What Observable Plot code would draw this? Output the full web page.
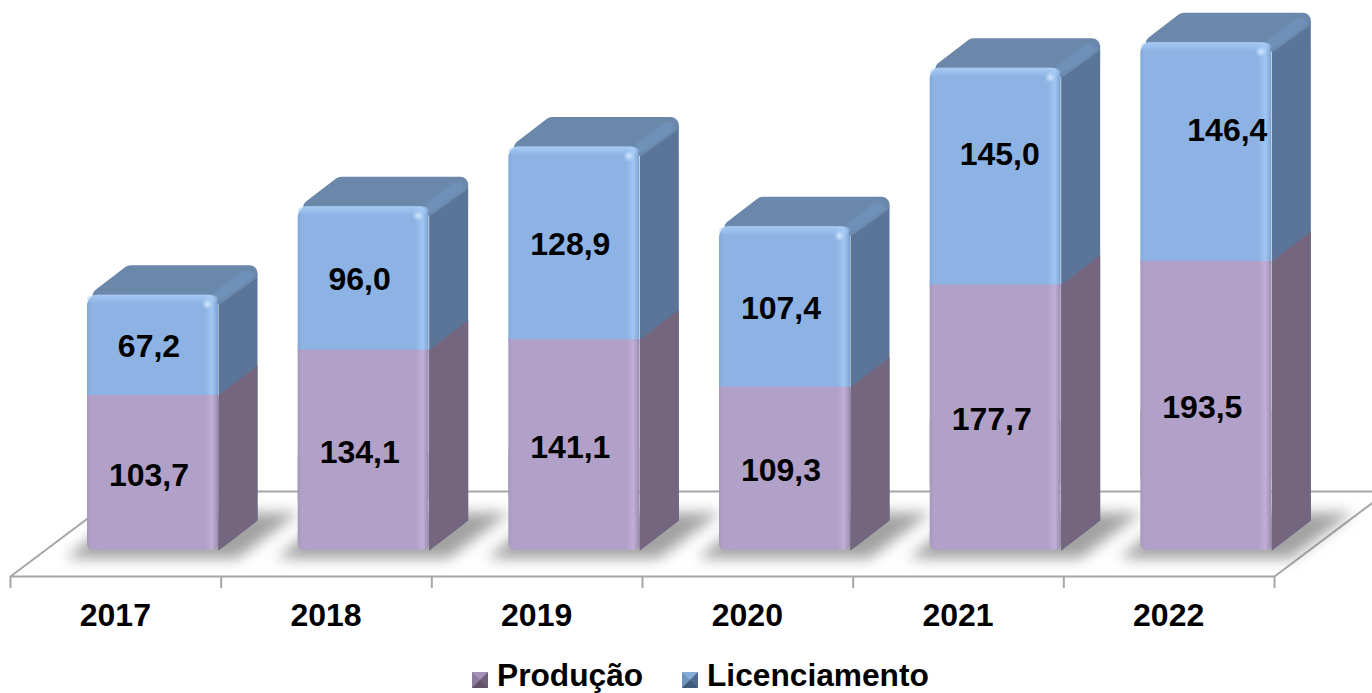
<!DOCTYPE html>
<html lang="pt">
<head>
<meta charset="utf-8">
<script src="https://cdn.jsdelivr.net/npm/d3@7"></script>
<script src="https://cdn.jsdelivr.net/npm/@observablehq/plot@0.6"></script>
<style>
html,body{margin:0;padding:0;background:#fff;overflow:hidden;width:1372px;height:693px}
#legend{position:relative;height:33px;width:1372px;font:bold 31.7px "Liberation Sans",Arial,sans-serif;color:#000}
#legend span{position:absolute;top:-1px;line-height:32px;white-space:nowrap}
#legend i{position:absolute;top:12px;width:0;height:0;border-style:solid;border-width:8px}
</style>
</head>
<body>
<div id="chart"></div>
<div id="legend"></div>
<script>
const years = ["2017","2018","2019","2020","2021","2022"];
const producao = [103.7,134.1,141.1,109.3,177.7,193.5];
const licenciamento = [67.2,96.0,128.9,107.4,145.0,146.4];
const producaoLabels = ["103,7","134,1","141,1","109,3","177,7","193,5"];
const licenciamentoLabels = ["67,2","96,0","128,9","107,4","145,0","146,4"];
const licLabelLift = [0,0,0,0,15.5,15.5];
const licLabelShift = [0,0,0,0,8,25];

const colors = {
  prodFront:"#b1a0c7", prodLight:"#c0aed6", prodSide:"#75667f",
  licFront:"#8cb3e3", licLight:"#a0c6f2", licSide:"#5a7597",
  top:"#6b88ab", bevel:"#6f91b9", axis:"#a6a6a6", shadow:"#555555"
};

// scale geometry
const W = 1372, H = 660;
const xDomain = [0,6], xRange = [10,1274];
const yDomain = [0,340], yRange = [550,42];
const PX = 6/(xRange[1]-xRange[0]);
const PY = 340/(yRange[0]-yRange[1]);
const FRONT_L = 77, FRONT_W = 131, DEPTH_X = 39, DEPTH_Y = 30;

const bars = years.map((year,i)=>({
  i, year, prod:producao[i], lic:licenciamento[i], total:producao[i]+licenciamento[i],
  x1:i+FRONT_L*PX, x2:i+(FRONT_L+FRONT_W)*PX
}));
// a point measured in screen offsets from a bar's front-left corner at value v
const pt = (b,v,dx,dy)=>({x:b.i+(FRONT_L+dx)*PX, y:v-dy*PY, k:b.i});
const poly = (b,v,list)=>{const r=list.map(([dx,dy])=>pt(b,v,dx,dy)); r.push(r[0]); return r;};
const polys = fn=>bars.flatMap(fn);
const shape = (rows,opt)=>Plot.line(rows,{x:"x",y:"y",z:"k",curve:"linear",strokeLinejoin:"round",stroke:"none",...opt});

const shadows = polys(b=>poly(b,0,[[-22,8],[150,8],[212,-38],[35,-38]]));
const topFaces = polys(b=>poly(b,b.total,[[13,1],[43,-22],[162,-22],[130,1]]));
const licSides = polys(b=>poly(b,b.total,[[FRONT_W,0],[FRONT_W+DEPTH_X,-22],[FRONT_W+DEPTH_X,b.total/PY-DEPTH_Y],[FRONT_W,b.total/PY]]));
const bevels = polys(b=>poly(b,b.total,[[124,0],[155,-24],[163,-24],[166,-18],[133,6]]));
const prodSides = polys(b=>poly(b,b.prod,[[FRONT_W,0],[FRONT_W+DEPTH_X,-DEPTH_Y],[FRONT_W+DEPTH_X,b.prod/PY-DEPTH_Y],[FRONT_W,b.prod/PY]]));

// floor and axis
const FLOOR_FRONT = -17.4, FLOOR_BACK = 39.5, FLOOR_DX = 113*PX, TICK_END = -25.4;
const floorLines = [
  {x:0,y:FLOOR_FRONT,k:"a"},{x:FLOOR_DX,y:FLOOR_BACK,k:"a"},{x:6+FLOOR_DX,y:FLOOR_BACK,k:"a"},
  {x:6,y:FLOOR_FRONT,k:"a"},{x:0,y:FLOOR_FRONT,k:"a"}
];
const tickIdx = d3.range(0,7);

const defs = ()=>{
  const d = d3.create("svg:defs");
  const grad=(id,stops,vert)=>{
    const g=d.append("linearGradient").attr("id",id).attr("x1",0).attr("y1",0)
      .attr("x2",vert?0:1).attr("y2",vert?1:0);
    stops.forEach(([o,c,a])=>g.append("stop").attr("offset",o).attr("stop-color",c).attr("stop-opacity",a??1));
  };
  grad("licG",[[0,"#82a8d8"],[.03,colors.licFront],[.9,colors.licFront],[.955,colors.licLight],[.985,"#88aedd"],[1,"#7c9fcc"]]);
  grad("prodG",[[0,"#a897bd"],[.03,colors.prodFront],[.9,colors.prodFront],[.955,colors.prodLight],[.985,"#a897bd"],[1,"#9a8aae"]]);
  grad("topG",[[0,"#b3d4fa",.75],[.55,"#a6cbf6",.45],[1,"#a6cbf6",0]],true);
  const r=d.append("radialGradient").attr("id","spot");
  r.append("stop").attr("offset",0).attr("stop-color","#dcefff").attr("stop-opacity",.95);
  r.append("stop").attr("offset",1).attr("stop-color","#bcd9fb").attr("stop-opacity",0);
  return d.node();
};

const labelStyle = {fontFamily:"Liberation Sans",fontWeight:"bold",fontSize:32,fill:"#000",lineAnchor:"middle"};

const chart = Plot.plot({
  width:W, height:H, margin:0,
  style:{background:"transparent",overflow:"hidden"},
  x:{domain:xDomain,range:xRange,axis:null},
  y:{domain:yDomain,range:yRange,axis:null},
  marks:[
    defs,
    shape(floorLines,{stroke:colors.axis,strokeWidth:2}),
    Plot.ruleX(tickIdx,{x:d=>d,y1:FLOOR_FRONT,y2:TICK_END,stroke:colors.axis,strokeWidth:2}),
    shape(shadows,{fill:colors.shadow,fillOpacity:.55,imageFilter:"blur(7px)"}),
    shape(licSides,{fill:colors.licSide}),
    shape(topFaces,{fill:colors.top,stroke:colors.top,strokeWidth:16}),
    shape(bevels,{fill:colors.bevel,imageFilter:"blur(1.5px)"}),
    shape(prodSides,{fill:colors.prodSide}),
    // fronts
    Plot.rect(bars,{x1:"x1",x2:"x2",y1:d=>d.prod-12*PY,y2:"total",fill:"url(#licG)",rx:11}),
    Plot.rect(bars,{x1:"x1",x2:"x2",y1:d=>d.total-9*PY,y2:"total",fill:"url(#topG)",rx:9}),
    Plot.dot(bars,{x:d=>d.x2-11*PX,y:d=>d.total-9*PY,r:6,fill:"url(#spot)"}),
    Plot.rect(bars,{x1:"x1",x2:"x2",y1:0,y2:d=>d.prod*0.5,fill:"url(#prodG)",rx:6}),
    Plot.rect(bars,{x1:"x1",x2:"x2",y1:d=>d.prod*0.25,y2:"prod",fill:"url(#prodG)"}),
    // labels
    Plot.text(bars,{x:d=>(d.x1+d.x2)/2-4*PX,y:d=>d.prod/2-1.5,text:d=>producaoLabels[d.i],...labelStyle}),
    Plot.text(bars,{x:d=>(d.x1+d.x2)/2+(licLabelShift[d.i]-4)*PX,y:d=>d.prod+d.lic/2-1+licLabelLift[d.i],text:d=>licenciamentoLabels[d.i],...labelStyle}),
    Plot.text(bars,{x:d=>d.i+.5,y:-44,text:"year",dx:-.5,...labelStyle})
  ]
});
document.getElementById("chart").appendChild(chart);
chart.style.display="block";

const legendItems = [
  {label:"Produção",sq:472,tx:497,b:["#a594b8","#6f617c","#5f5269","#8c7da0"]},
  {label:"Licenciamento",sq:682,tx:707,b:["#86add9","#4f6a8c","#405a7a","#6f93bd"]}
];
const lg = document.getElementById("legend");
legendItems.forEach(it=>{
  const s=document.createElement("i");
  s.style.left=it.sq+"px";
  s.style.borderColor=it.b.join(" ");
  lg.appendChild(s);
  const t=document.createElement("span");
  t.style.left=it.tx+"px";
  t.textContent=it.label;
  lg.appendChild(t);
});
</script>
</body>
</html>
